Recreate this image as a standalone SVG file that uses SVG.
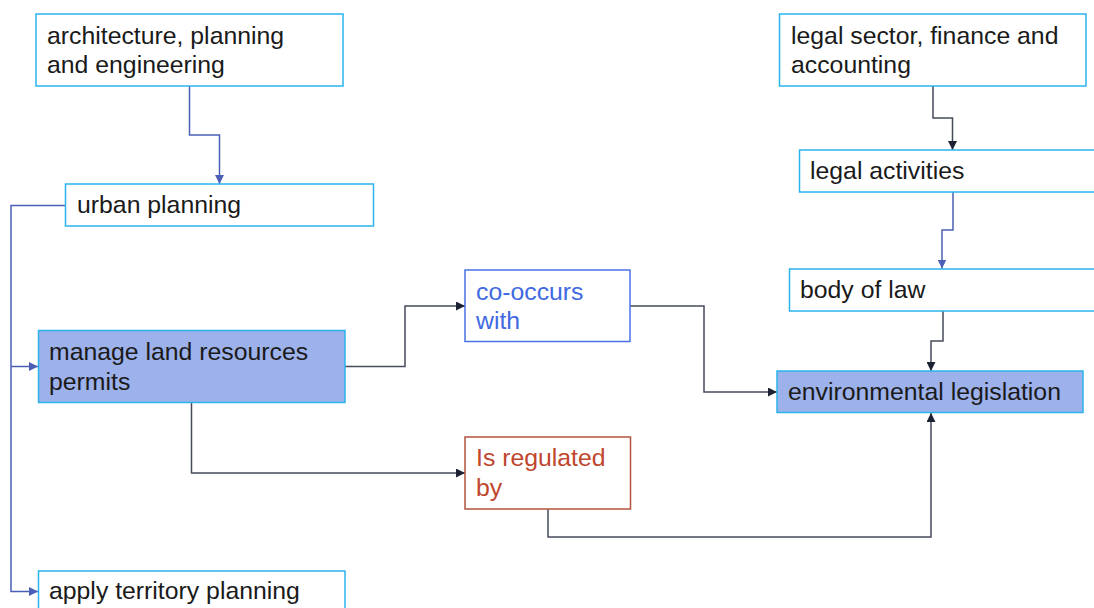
<svg xmlns="http://www.w3.org/2000/svg" width="1094" height="608" viewBox="0 0 1094 608">
<style>
  .box{fill:#ffffff;stroke:#2ab4ec;stroke-width:1.5}
  .hl{fill:#9db1ea;stroke:#2ab4ec;stroke-width:1.5}
  .rel1{fill:#ffffff;stroke:#4a72e6;stroke-width:1.5}
  .rel2{fill:#ffffff;stroke:#b5533f;stroke-width:1.5}
  text{font-family:"Liberation Sans",Arial,sans-serif;font-size:24.8px;fill:#1a1a1a}
  .t1{fill:#4169e1}
  .t2{fill:#c0462d}
  .cb{fill:none;stroke:#4a5fb5;stroke-width:1.5}
  .cd{fill:none;stroke:#454b5c;stroke-width:1.5}
</style>
<defs>
  <marker id="ab" viewBox="0 0 10 10" refX="10" refY="5" markerWidth="6" markerHeight="6" orient="auto" markerUnits="strokeWidth">
    <path d="M0,0 L10,5 L0,10 z" fill="#4a5fb5"/>
  </marker>
  <marker id="ad" viewBox="0 0 10 10" refX="10" refY="5" markerWidth="6" markerHeight="6" orient="auto" markerUnits="strokeWidth">
    <path d="M0,0 L10,5 L0,10 z" fill="#1c2233"/>
  </marker>
</defs>
<g id="connectors">
  <path class="cb" d="M189.5,86 V135 H219.5 V184" marker-end="url(#ab)"/>
  <path class="cb" d="M65,205.5 H11 V591.5 H38" marker-end="url(#ab)"/>
  <path class="cb" d="M11,366.5 H38" marker-end="url(#ab)"/>
  <path class="cd" d="M345,366.5 H405 V306 H465" marker-end="url(#ad)"/>
  <path class="cd" d="M630,306 H704 V392 H777" marker-end="url(#ad)"/>
  <path class="cd" d="M191.5,403 V473 H465" marker-end="url(#ad)"/>
  <path class="cd" d="M548,509 V537 H931 V413" marker-end="url(#ad)"/>
  <path class="cd" d="M933,86 V118 H952.5 V150" marker-end="url(#ad)"/>
  <path class="cb" d="M953,192 V230 H942 V268.5" marker-end="url(#ab)"/>
  <path class="cd" d="M943,311 V341 H931 V371" marker-end="url(#ad)"/>
</g>
<g id="n1"><rect class="box" x="36" y="14" width="307" height="72"/><text x="47" y="43.5">architecture, planning</text><text x="47" y="73">and engineering</text></g>
<g id="n2"><rect class="box" x="65.5" y="184" width="308" height="42"/><text x="77" y="213">urban planning</text></g>
<g id="n3"><rect class="hl" x="38.5" y="330.5" width="306.5" height="72"/><text x="49" y="360">manage land resources</text><text x="49" y="389.5">permits</text></g>
<g id="n4"><rect class="box" x="38.5" y="571" width="306.5" height="45"/><text x="49" y="599">apply territory planning</text></g>
<g id="n5"><rect class="rel1" x="465" y="270" width="165" height="71.5"/><text class="t1" x="476" y="299.5">co-occurs</text><text class="t1" x="476" y="328.5">with</text></g>
<g id="n6"><rect class="rel2" x="465" y="437" width="165.5" height="72"/><text class="t2" x="476" y="466">Is regulated</text><text class="t2" x="476" y="495.5">by</text></g>
<g id="n7"><rect class="hl" x="777" y="371" width="306" height="41.5"/><text x="788" y="400">environmental legislation</text></g>
<g id="n8"><rect class="box" x="779.5" y="14" width="306.5" height="72"/><text x="791" y="43.5">legal sector, finance and</text><text x="791" y="73">accounting</text></g>
<g id="n9"><rect class="box" x="799.5" y="150" width="300" height="42"/><text x="810" y="179">legal activities</text></g>
<g id="n10"><rect class="box" x="789.5" y="269" width="310" height="42"/><text x="800" y="298">body of law</text></g>
</svg>
